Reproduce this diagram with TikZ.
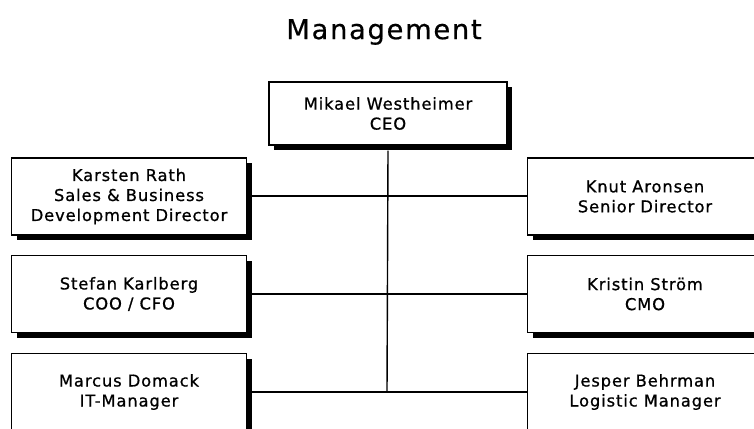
\documentclass[tikz,border=0pt]{standalone}
\usepackage{fontspec}
\setmainfont{DejaVu Sans}
\newfontfamily\boxfont[LetterSpace=5.5,FakeBold=0.8]{DejaVu Sans}
\newfontfamily\titlefont[LetterSpace=6,FakeBold=0.5]{DejaVu Sans}
\usetikzlibrary{shadows}
\begin{document}
\begin{tikzpicture}[x=1pt,y=-1pt,
  person/.style={draw=black, line width=1.4pt, fill=white, rectangle,
    minimum width=235pt, minimum height=77pt, inner sep=0pt,
    align=center, font=\boxfont\fontsize{16.3}{20}\selectfont,
    drop shadow={shadow xshift=5pt, shadow yshift=-5pt, fill=black, opacity=1}},
  link/.style={draw=black, line width=1.4pt}]
\useasboundingbox (0,0) rectangle (754,428);
\clip (0,0) rectangle (754,428);
\fill[white] (0,0) rectangle (754,428);
\node[font=\titlefont\fontsize{27.4}{30}\selectfont] (title) at (384,32) {Management};
\coordinate (j1) at (387,196);
\coordinate (j2) at (387,294);
\coordinate (j3) at (387,392);
\node[person, minimum width=238pt, minimum height=63pt] (ceo) at (388,113.5) {Mikael Westheimer\\CEO};
\node[person] (l1) at (129,196.5) {\vphantom{Ag}Karsten Rath\\Sales \& Business\\Development Director};
\node[person] (r1) at (645,196.5) {Knut Aronsen\\Senior Director};
\node[person] (l2) at (129,294) {Stefan Karlberg\\COO / CFO};
\node[person] (r2) at (645,294) {Kristin Ström\\CMO};
\node[person] (l3) at (129,392) {Marcus Domack\\IT-Manager};
\node[person] (r3) at (645,392) {Jesper Behrman\\Logistic Manager};
\draw[link] (ceo.south) ++(0,5) -- (j3);
\draw[link] ([xshift=5pt]l1.east |- j1) -- (r1.west |- j1);
\draw[link] ([xshift=5pt]l2.east |- j2) -- (r2.west |- j2);
\draw[link] ([xshift=5pt]l3.east |- j3) -- (r3.west |- j3);
\end{tikzpicture}
\end{document}
